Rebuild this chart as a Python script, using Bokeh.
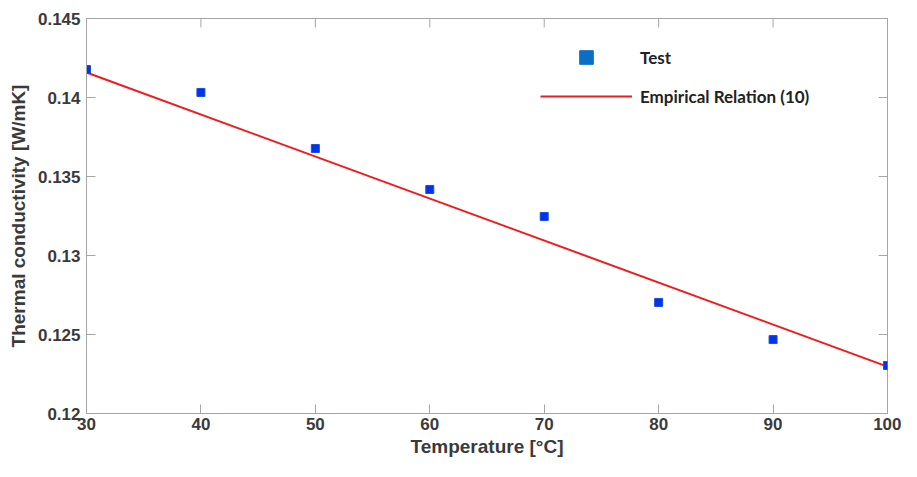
import math
from bokeh.plotting import figure
from bokeh.models import Range1d, FixedTicker, Legend, LegendItem
from bokeh.embed import file_html
from bokeh.resources import INLINE

# Data
temperature = [30, 40, 50, 60, 70, 80, 90, 100]
conductivity_test = [0.14177, 0.14032, 0.13677, 0.13418, 0.13247, 0.12703, 0.12468, 0.12304]
relation_temp = [30, 100]
relation_k = [0.14158, 0.12297]
x_ticks = [30, 40, 50, 60, 70, 80, 90, 100]
y_ticks = [0.12, 0.125, 0.13, 0.135, 0.14, 0.145]
y_tick_labels = ["0.12", "0.125", "0.13", "0.135", "0.14", "0.145"]
x_lim = (30, 100)
y_lim = (0.12, 0.145)

FONT = "Liberation Sans"
AXIS_GREY = "#a6a6a6"

p = figure(width=901, height=461, output_backend="svg", toolbar_location=None,
           x_range=Range1d(*x_lim), y_range=Range1d(*y_lim),
           min_border_left=86, min_border_right=14, min_border_top=18, min_border_bottom=48)
p.xgrid.visible = False
p.ygrid.visible = False
p.outline_line_color = AXIS_GREY
p.background_fill_color = "white"
p.border_fill_color = "white"

# tick marks on the top and right edges of the box (inner half of a dash is visible)
p.scatter(x=x_ticks, y=[y_lim[1]] * len(x_ticks), marker="dash", angle=math.pi / 2,
          size=18, line_color=AXIS_GREY, line_width=1)
p.scatter(x=[x_lim[1]] * len(y_ticks), y=y_ticks, marker="dash", angle=0,
          size=18, line_color=AXIS_GREY, line_width=1)

line_r = p.line(relation_temp, relation_k, line_color="#ee1c1c", line_width=2)
pts = p.scatter(temperature, conductivity_test, marker="square", size=8,
                fill_color="#0033ee", line_color="#1a4fe0", line_width=1)
nan = float("nan")
legend_marker = p.scatter(x=[nan], y=[nan], marker="square",
                          fill_color="#0a6fc4", line_color="#0a6fc4")

for ax in (p.xaxis[0], p.yaxis[0]):
    ax.axis_line_color = AXIS_GREY
    ax.major_tick_line_color = AXIS_GREY
    ax.major_tick_in = 9
    ax.major_tick_out = 0
    ax.minor_tick_line_color = None
    ax.major_label_text_font = FONT
    ax.major_label_text_font_style = "bold"
    ax.major_label_text_font_size = "17px"
    ax.major_label_text_color = "#3a3a3a"
    ax.axis_label_text_font = FONT
    ax.axis_label_text_font_style = "bold"
    ax.axis_label_text_font_size = "19px"
    ax.axis_label_text_color = "#3a3a3a"

p.xaxis[0].ticker = FixedTicker(ticks=x_ticks)
p.yaxis[0].ticker = FixedTicker(ticks=y_ticks)
p.yaxis[0].major_label_overrides = {t: l for t, l in zip(y_ticks, y_tick_labels)}
p.xaxis[0].axis_label = "Temperature [°C]"
p.yaxis[0].axis_label = "Thermal conductivity [W/mK]"
p.xaxis[0].major_label_standoff = 4
p.yaxis[0].major_label_standoff = 6
p.xaxis[0].axis_label_standoff = 3
p.yaxis[0].axis_label_standoff = 6

legend = Legend(items=[LegendItem(label="Test", renderers=[legend_marker]),
                       LegendItem(label="Empirical Relation (10)", renderers=[line_r])],
                location=(454, 300), margin=0, padding=0,
                border_line_alpha=0, background_fill_alpha=0,
                glyph_width=92, glyph_height=34, label_height=34, spacing=5,
                label_standoff=8, label_text_font="Lato",
                label_text_font_style="bold", label_text_font_size="17px",
                label_text_color="#222222")
p.add_layout(legend, "center")

open("out.html", "w").write(file_html(p, INLINE))
